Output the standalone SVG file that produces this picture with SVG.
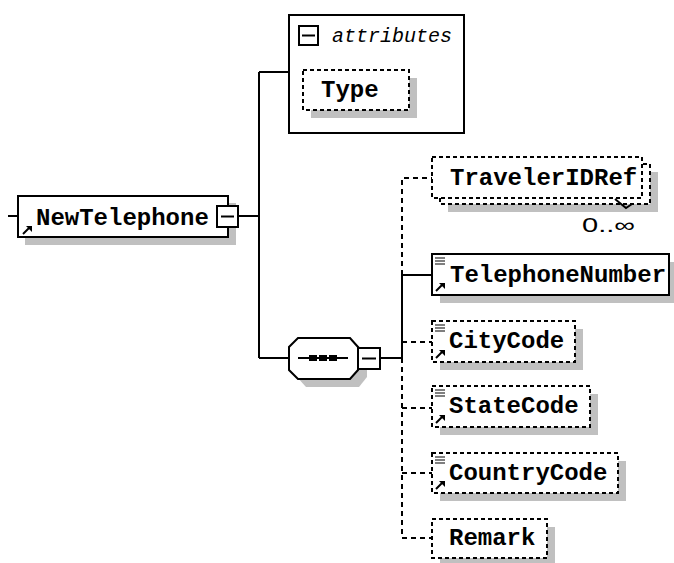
<svg xmlns="http://www.w3.org/2000/svg" width="674" height="563" viewBox="0 0 674 563">
<style>
.bg{fill:#ffffff}
.sh{fill:#c0c0c0}
.box{fill:#ffffff;stroke:#000;stroke-width:2}
.dbox{fill:#ffffff;stroke:#000;stroke-width:2;stroke-dasharray:4 3}
.ln{fill:none;stroke:#000;stroke-width:2}
.dln{fill:none;stroke:#000;stroke-width:2;stroke-dasharray:5 4}
.lbl{font-family:"Liberation Mono",monospace;font-weight:bold;font-size:24px;fill:#000}
.it{font-family:"Liberation Mono",monospace;font-style:italic;font-size:20px;fill:#000}
.occ{font-family:"Liberation Sans",sans-serif;font-size:20px;fill:#000}
.ic{fill:none;stroke:#000;stroke-width:1.2}
</style>
<defs>
<g id="doc">
<path class="ic" d="M0,0h10M0,3h10M0,6h10"/>
</g>
<g id="ref">
<path d="M0,8L7,1" stroke="#000" stroke-width="2"/>
<path d="M3,0h6v6z" fill="#000"/>
</g>
</defs>
<rect class="bg" x="0" y="0" width="674" height="563"/>

<g id="connectors">
<path class="ln" d="M8,216H18"/>
<path class="ln" d="M238,216H259"/>
<path class="ln" d="M259,72V358"/>
<path class="ln" d="M259,72H289"/>
<path class="ln" d="M259,358H289"/>
<path class="ln" d="M380,358H402"/>
<path class="ln" d="M402,275V358"/>
<path class="ln" d="M402,275H432"/>
<path class="dln" d="M402,275V178H432"/>
<path class="dln" d="M402,358V538H432"/>
<path class="dln" d="M402,342H432"/>
<path class="dln" d="M402,408H432"/>
<path class="dln" d="M402,473H432"/>
</g>

<g id="NewTelephone">
<rect class="sh" x="25" y="203" width="211" height="42"/>
<rect class="box" x="18" y="196" width="210" height="41"/>
<use href="#ref" x="23" y="226"/>
<text class="lbl" x="36" y="225">NewTelephone</text>
<rect class="box" x="217" y="206" width="21" height="21"/>
<path class="ln" d="M221,216.5H234"/>
</g>

<g id="attributes">
<rect class="box" x="289" y="15" width="175" height="118"/>
<rect class="box" x="299" y="26" width="19" height="19"/>
<path class="ln" d="M302,35.5H315"/>
<text class="it" x="332" y="42">attributes</text>
</g>

<g id="Type">
<rect class="sh" x="311" y="78" width="106" height="40"/>
<rect class="dbox" x="303" y="70" width="106" height="40"/>
<text class="lbl" x="321" y="97">Type</text>
</g>

<g id="sequence">
<path class="sh" d="M306,346H359L367,354V377L359,387H306L297,377V354Z"/>
<path class="box" d="M298,338H350L358,347V370L350,379H298L289,370V347Z"/>
<path class="ln" d="M298,358H348"/>
<rect x="309" y="355" width="8" height="6" fill="#000"/>
<rect x="319" y="355" width="8" height="6" fill="#000"/>
<rect x="329" y="355" width="8" height="6" fill="#000"/>
<rect class="box" x="358" y="348" width="22" height="21"/>
<path class="ln" d="M362,358.5H376"/>
</g>

<g id="TravelerIDRef">
<rect class="sh" x="448" y="172" width="210" height="40"/>
<rect class="dbox" x="440" y="164" width="210" height="40"/>
<rect class="dbox" x="432" y="157" width="210" height="41"/>
<text class="lbl" x="450" y="185">TravelerIDRef</text>
<path class="ln" d="M615,199L626,208L632,204" stroke-width="1.2"/>
<text class="occ" x="582" y="232" textLength="53" lengthAdjust="spacingAndGlyphs">0..∞</text>
</g>

<g id="TelephoneNumber">
<rect class="sh" x="440" y="262" width="237" height="41"/>
<rect class="box" x="432" y="254" width="237" height="41"/>
<use href="#doc" x="435" y="258"/>
<use href="#ref" x="436" y="283"/>
<text class="lbl" x="450" y="282">TelephoneNumber</text>
</g>

<g id="CityCode">
<rect class="sh" x="440" y="329" width="143" height="41"/>
<rect class="dbox" x="432" y="321" width="143" height="41"/>
<use href="#doc" x="435" y="325"/>
<use href="#ref" x="436" y="350"/>
<text class="lbl" x="449" y="348">CityCode</text>
</g>

<g id="StateCode">
<rect class="sh" x="440" y="394" width="158" height="41"/>
<rect class="dbox" x="432" y="386" width="158" height="41"/>
<use href="#doc" x="435" y="390"/>
<use href="#ref" x="436" y="415"/>
<text class="lbl" x="449" y="413">StateCode</text>
</g>

<g id="CountryCode">
<rect class="sh" x="440" y="461" width="186" height="40"/>
<rect class="dbox" x="432" y="453" width="186" height="40"/>
<use href="#doc" x="435" y="457"/>
<use href="#ref" x="436" y="481"/>
<text class="lbl" x="449" y="480">CountryCode</text>
</g>

<g id="Remark">
<rect class="sh" x="440" y="527" width="115" height="39"/>
<rect class="dbox" x="432" y="519" width="115" height="39"/>
<text class="lbl" x="449" y="545">Remark</text>
</g>
</svg>
